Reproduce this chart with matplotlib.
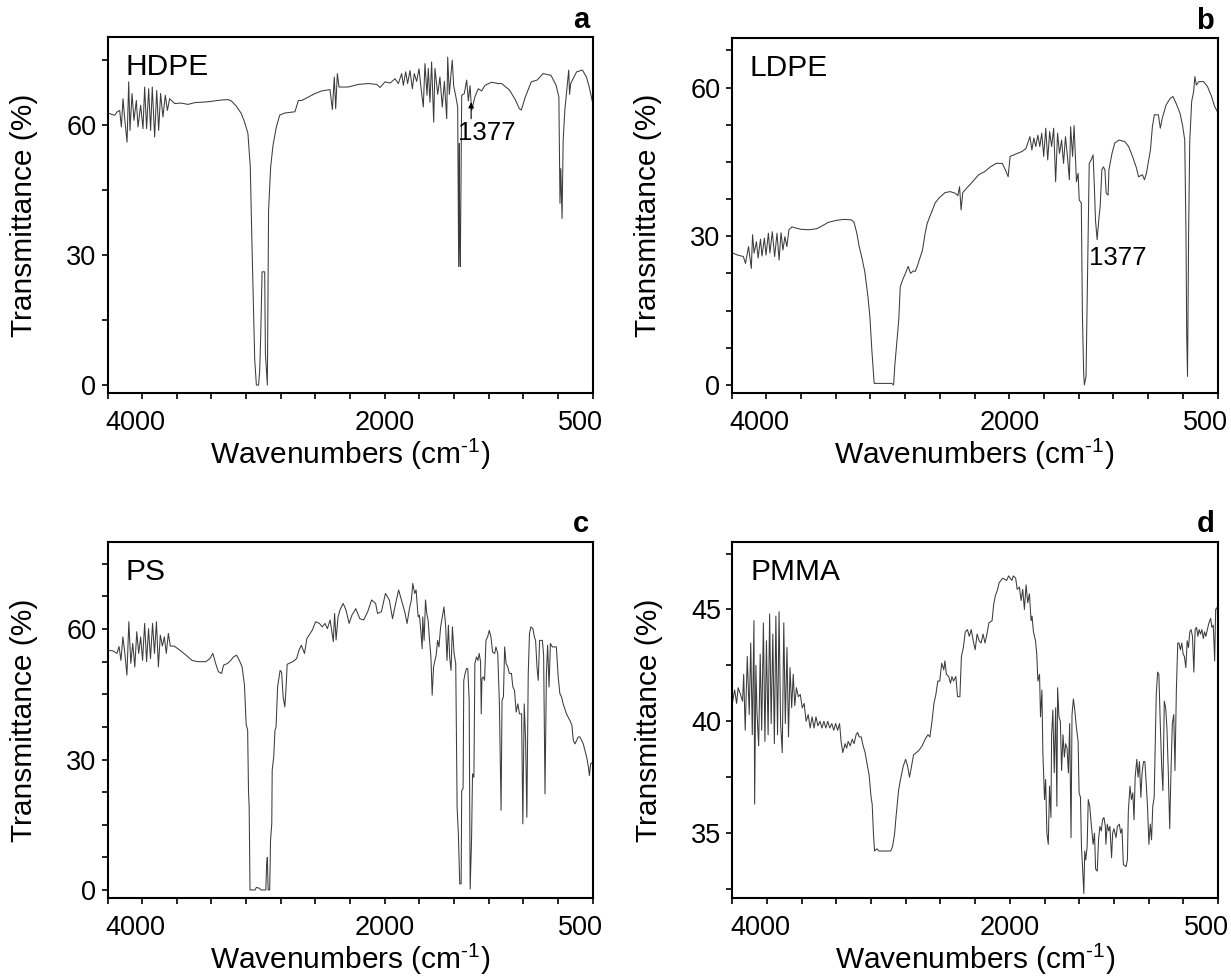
import matplotlib
matplotlib.use("Agg")
import matplotlib.pyplot as plt
from matplotlib.transforms import ScaledTranslation

plt.rcParams['font.family'] = ['Liberation Sans', 'DejaVu Sans']
plt.rcParams['mathtext.fontset'] = 'custom'
plt.rcParams['mathtext.rm'] = 'Liberation Sans'

# ---------------- data (wavenumber cm-1, transmittance %) ----------------
hdpe_wn = [3996, 3970, 3948, 3930, 3912, 3900, 3888, 3876, 3859, 3847, 3838, 3823, 3809, 3792, 3780,
           3761, 3744, 3732, 3718, 3703, 3689, 3677, 3660, 3645, 3631, 3617, 3600, 3583, 3568, 3552,
           3515, 3470, 3419, 3370, 3323, 3275, 3227, 3180, 3131, 3107, 3071, 3035, 3011, 2987, 2970,
           2958, 2938, 2926, 2910, 2902, 2895, 2885, 2866, 2861, 2847, 2838, 2823, 2806, 2782, 2758,
           2722, 2674, 2648, 2623, 2599, 2551, 2503, 2455, 2395, 2378, 2364, 2354, 2342, 2330, 2263,
           2191, 2118, 2058, 2034, 1998, 1962, 1926, 1902, 1878, 1866, 1849, 1835, 1818, 1801, 1787,
           1770, 1753, 1739, 1722, 1710, 1695, 1686, 1674, 1662, 1647, 1638, 1618, 1602, 1585, 1570,
           1553, 1546, 1534, 1522, 1513, 1503, 1489, 1474, 1467, 1462, 1460, 1455, 1445, 1426, 1409,
           1397, 1385, 1373, 1349, 1325, 1301, 1277, 1229, 1181, 1157, 1100, 1057, 1029, 1015, 986,
           943, 901, 858, 801, 764, 744, 736, 730, 721, 713, 701, 687, 673, 667, 659,
           616, 574, 545, 525, 502]
hdpe_t = [62.7, 62.4, 62.2, 63.0, 63.3, 59.5, 66.0, 61.4, 56.0, 69.9, 58.7, 67.2, 61.0, 65.6, 59.5,
          64.5, 59.1, 68.7, 59.1, 68.3, 58.7, 68.7, 57.2, 67.9, 58.7, 67.2, 61.8, 66.8, 63.3, 66.0,
          64.9, 65.0, 64.7, 65.1, 65.2, 65.3, 65.5, 65.7, 65.8, 65.5, 64.3, 62.6, 60.6, 58.0, 50.3,
          32.6, 5.8, 0.0, 0.0, 3.5, 11.1, 26.1, 26.1, 7.3, 0.0, 40.3, 50.3, 55.3, 59.5, 62.2,
          62.7, 62.9, 63.0, 65.6, 65.6, 66.4, 67.2, 67.8, 68.1, 63.5, 71.0, 63.7, 71.8, 68.7, 68.7,
          69.3, 69.5, 69.3, 68.6, 69.9, 69.6, 70.6, 69.5, 71.8, 69.1, 72.2, 69.5, 72.5, 68.3, 71.8,
          70.0, 72.9, 68.7, 64.1, 74.1, 66.8, 73.0, 65.2, 74.5, 60.6, 73.0, 67.0, 71.0, 64.1, 70.0,
          61.4, 75.6, 67.0, 71.8, 74.9, 69.0, 66.8, 64.1, 27.3, 55.7, 34.9, 27.3, 66.8, 67.2, 70.3,
          65.5, 69.0, 63.3, 66.5, 68.3, 67.8, 69.1, 69.8, 69.5, 69.5, 68.0, 65.7, 63.7, 63.4, 66.4,
          69.9, 70.3, 71.8, 71.4, 69.1, 66.4, 41.9, 49.9, 38.4, 56.5, 63.4, 68.0, 72.6, 67.0, 69.5,
          72.2, 72.6, 71.0, 68.7, 65.3]

ldpe_wn = [3991, 3957, 3915, 3900, 3878, 3858, 3849, 3838, 3821, 3809, 3792, 3781, 3764, 3752, 3735,
           3724, 3707, 3690, 3673, 3658, 3644, 3630, 3616, 3602, 3587, 3565, 3545, 3502, 3445, 3388,
           3360, 3303, 3246, 3189, 3138, 3118, 3098, 3081, 3061, 3041, 3018, 3004, 2990, 2973, 2904,
           2847, 2833, 2825, 2813, 2796, 2785, 2768, 2748, 2728, 2711, 2691, 2677, 2663, 2648, 2625,
           2606, 2591, 2563, 2534, 2506, 2463, 2426, 2392, 2370, 2358, 2347, 2335, 2307, 2264, 2221,
           2179, 2136, 2093, 2050, 2022, 2008, 1994, 1951, 1908, 1880, 1851, 1837, 1823, 1809, 1794,
           1780, 1766, 1752, 1737, 1723, 1709, 1695, 1680, 1666, 1652, 1638, 1623, 1609, 1595, 1581,
           1567, 1558, 1544, 1533, 1516, 1504, 1496, 1481, 1473, 1464, 1459, 1447, 1439, 1424, 1410,
           1396, 1387, 1379, 1367, 1353, 1345, 1333, 1322, 1311, 1302, 1288, 1282, 1260, 1240, 1211,
           1168, 1140, 1112, 1083, 1069, 1041, 1026, 1012, 983, 969, 955, 926, 912, 898, 870,
           841, 821, 798, 770, 750, 736, 727, 722, 716, 708, 700, 686, 672, 663, 652,
           635, 601, 572, 543, 521, 500]
ldpe_t = [26.6, 26.2, 25.9, 24.5, 27.9, 23.5, 30.3, 26.6, 28.9, 25.6, 29.4, 26.0, 29.6, 26.2, 30.6,
          26.6, 30.9, 25.9, 30.6, 25.2, 30.7, 27.2, 29.9, 27.9, 31.3, 31.9, 31.7, 31.4, 31.3, 31.5,
          31.9, 32.8, 33.2, 33.4, 33.3, 32.8, 30.6, 27.9, 25.6, 22.9, 17.8, 13.8, 7.1, 0.3, 0.3,
          0.3, 0.0, 3.7, 7.7, 13.1, 19.8, 21.2, 22.5, 23.9, 22.5, 23.0, 22.9, 23.9, 25.2, 27.2,
          30.6, 32.6, 34.6, 36.7, 37.7, 38.8, 39.0, 38.7, 38.2, 40.0, 35.3, 38.8, 39.7, 41.0, 42.4,
          43.0, 44.0, 44.7, 44.7, 43.0, 42.0, 46.1, 46.6, 47.1, 47.7, 50.1, 47.4, 49.8, 48.1, 50.4,
          48.1, 50.8, 46.1, 51.8, 45.4, 51.1, 48.1, 51.8, 41.0, 50.8, 46.7, 49.4, 44.7, 50.1, 46.1,
          41.4, 52.1, 46.1, 52.3, 41.0, 42.7, 37.3, 36.7, 13.8, 2.4, 0.0, 1.7, 17.1, 44.7, 45.4,
          46.4, 40.0, 33.3, 29.3, 34.0, 36.0, 43.4, 44.0, 43.4, 38.7, 38.3, 43.4, 46.7, 48.8, 49.4,
          49.1, 48.1, 46.1, 43.7, 42.0, 42.4, 41.4, 42.7, 47.4, 52.1, 54.5, 54.5, 51.8, 53.8, 56.5,
          57.8, 58.2, 56.8, 54.8, 52.1, 49.4, 30.6, 10.4, 1.7, 30.6, 49.1, 57.2, 59.2, 62.2, 60.5,
          61.2, 61.2, 60.2, 58.2, 56.2, 55.1]

ps_wn = [4000, 3960, 3932, 3917, 3903, 3889, 3875, 3860, 3846, 3832, 3818, 3803, 3789, 3775, 3761,
         3747, 3732, 3718, 3704, 3690, 3675, 3661, 3647, 3633, 3619, 3604, 3590, 3576, 3561, 3547,
         3519, 3476, 3433, 3391, 3348, 3291, 3262, 3240, 3220, 3200, 3177, 3163, 3134, 3111, 3091,
         3069, 3049, 3029, 3012, 3000, 2989, 2983, 2978, 2972, 2935, 2926, 2906, 2892, 2858, 2852,
         2847, 2841, 2830, 2824, 2815, 2812, 2801, 2792, 2784, 2773, 2755, 2744, 2733, 2721, 2713,
         2704, 2664, 2636, 2619, 2602, 2579, 2562, 2522, 2499, 2471, 2451, 2431, 2414, 2394, 2371,
         2362, 2351, 2337, 2323, 2300, 2280, 2257, 2237, 2209, 2180, 2152, 2123, 2095, 2066, 2052,
         2024, 1995, 1967, 1944, 1924,
         1900, 1876, 1856, 1839, 1822, 1808, 1798, 1784, 1774, 1759, 1750, 1740, 1730, 1726, 1716,
         1706, 1697, 1687, 1677, 1667, 1658, 1648, 1638, 1629, 1619, 1609, 1597, 1585, 1573, 1561,
         1551, 1541, 1532, 1522, 1512, 1500, 1488, 1478, 1469, 1459, 1449, 1445, 1435, 1430, 1420,
         1411, 1401, 1391, 1384, 1374, 1367, 1357, 1350, 1338, 1328, 1319, 1309, 1304, 1299, 1290,
         1280, 1270, 1258, 1246, 1234, 1222, 1207, 1198, 1185, 1173, 1161, 1154, 1144, 1135, 1125,
         1113, 1101, 1086, 1076, 1064, 1052, 1040, 1028, 1013, 1004, 994, 984, 975, 965, 956,
         946, 931, 921, 912, 902, 893, 883, 863, 854, 844, 834, 825, 815, 805, 791,
         781, 762, 749, 737, 725, 713, 689, 665, 650, 640, 628, 616, 604, 592, 580,
         568, 556, 544, 531, 524, 515, 500]
ps_t = [55.1, 55.0, 54.4, 56.0, 52.8, 58.2, 54.5, 49.4, 61.7, 52.1, 56.7, 51.3, 59.4, 54.4, 58.2,
        52.8, 61.3, 52.5, 60.1, 53.2, 61.3, 54.4, 61.7, 51.3, 58.6, 56.1, 58.2, 54.4, 59.0, 56.1,
        56.1, 55.1, 54.0, 52.8, 52.5, 52.5, 53.2, 54.4, 52.1, 50.2, 49.8, 51.7, 52.1, 52.8, 53.6,
        54.0, 52.8, 51.3, 47.1, 38.2, 36.7, 22.9, 19.0, 0.0, 0.0, 0.6, 0.4, 0.0, 0.0, 6.0,
        7.5, 0.0, 0.0, 11.4, 15.2, 27.5, 30.6, 36.7, 37.5, 46.7, 50.5, 50.1, 44.4, 42.1, 45.9,
        51.9, 52.5, 53.2, 55.1, 56.3, 54.4, 57.8, 59.8, 61.7, 61.3, 60.5, 61.3, 60.1, 62.1, 57.1,
        63.6, 57.5, 62.8, 64.4, 65.9, 64.4, 61.3, 63.2, 64.7, 62.4, 62.1, 64.0, 66.7, 65.9, 63.6,
        64.0, 68.2, 66.7, 62.4, 65.5,
        69.0, 66.3, 64.0, 61.3, 64.7, 66.7, 70.5, 68.2, 69.0, 62.8, 63.2, 59.7, 55.5, 62.8, 57.4,
        66.7, 63.6, 62.0, 57.4, 53.6, 44.8, 51.3, 52.8, 54.0, 57.4, 55.9, 60.5, 62.8, 65.1, 60.9,
        52.8, 60.9, 53.6, 50.5, 60.5, 54.4, 52.1, 19.0, 12.9, 1.4, 1.4, 22.9, 23.3, 48.2, 49.8,
        50.9, 50.9, 43.6, 0.2, 11.3, 26.7, 25.9, 52.1, 53.6, 52.8, 54.4, 52.5, 40.5, 48.6, 49.0,
        48.2, 57.4, 58.2, 59.7, 58.2, 54.7, 54.4, 55.9, 54.4, 42.8, 18.3, 43.6, 44.4, 55.9, 52.1,
        51.3, 49.8, 49.8, 46.7, 45.9, 40.9, 42.8, 40.5, 40.5, 15.2, 42.8, 34.4, 16.7, 49.8, 59.0,
        60.5, 60.1, 58.2, 57.4, 51.3, 48.2, 57.4, 57.4, 54.0, 22.1, 49.8, 56.3, 46.7, 56.7, 55.9,
        55.9, 55.9, 49.0, 45.2, 44.4, 42.8, 40.5, 39.0, 37.9, 34.4, 33.6, 34.4, 35.2, 35.2, 34.4,
        33.6, 32.1, 30.6, 28.3, 26.3, 29.0, 29.4]

pmma_wn = [4000, 3983, 3969, 3958, 3941, 3926, 3918, 3907, 3892, 3878, 3867, 3856, 3844, 3839, 3830,
           3822, 3810, 3799, 3788, 3776, 3765, 3754, 3742, 3731, 3720, 3708, 3697, 3686, 3674, 3663,
           3652, 3640, 3629, 3618, 3606, 3595, 3584, 3572, 3561, 3550, 3538, 3524, 3510, 3496, 3482,
           3468, 3453, 3439, 3425, 3411, 3397, 3383, 3368, 3354, 3340, 3326, 3312, 3298, 3283, 3269,
           3255, 3241, 3227, 3216, 3204, 3187, 3176, 3165, 3150, 3136, 3122, 3108, 3097, 3085, 3071,
           3057, 3043, 3029, 3014, 3000, 2992, 2983, 2975, 2958, 2944, 2915, 2887, 2859, 2845, 2830,
           2822, 2813, 2802, 2788, 2768, 2751, 2737, 2723, 2711, 2694, 2675, 2655, 2632, 2610, 2590,
           2576, 2561, 2547, 2533, 2519, 2505, 2491, 2476, 2468, 2457, 2440, 2428, 2417, 2406, 2389,
           2377, 2360, 2349, 2335, 2321, 2306, 2292, 2278, 2264, 2250, 2236, 2221, 2207, 2193, 2179,
           2165, 2151, 2128, 2117, 2105, 2088, 2077, 2051, 2023, 2009, 1986, 1975, 1958, 1947,
           1931, 1919, 1907, 1895, 1883, 1871, 1859, 1847, 1840, 1830, 1815, 1806, 1798, 1786, 1779,
           1769, 1762, 1750, 1742, 1733, 1723, 1714, 1704, 1699, 1690, 1680, 1670, 1661, 1656, 1646,
           1636, 1627, 1617, 1607, 1598, 1588, 1578, 1569, 1559, 1552, 1542, 1532, 1520, 1508, 1501,
           1491, 1484, 1477, 1467, 1460, 1453, 1443, 1435, 1424, 1412, 1400, 1390, 1382, 1370, 1361,
           1351, 1341, 1332, 1322, 1312, 1308, 1298, 1288, 1279, 1267, 1259, 1250, 1235, 1225, 1211,
           1201, 1192, 1182, 1163, 1153, 1146, 1134, 1124, 1114, 1105, 1097, 1085, 1076, 1066, 1056,
           1047, 1037, 1027, 1017, 1008, 998, 988, 979, 970, 960, 952, 945, 935, 926, 916,
           906, 897, 887, 877, 868, 858, 848, 839, 829, 819, 810, 800, 790, 781, 771,
           761, 751, 742, 732, 722, 713, 703, 694, 684, 674, 665, 655, 645, 636, 626,
           616, 606, 597, 587, 577, 565, 553, 544, 534, 524, 517, 505, 500]
pmma_t = [40.8, 41.4, 40.8, 41.5, 41.2, 40.9, 42.1, 39.6, 42.9, 40.3, 43.5, 39.4, 44.5, 36.3, 42.5,
          40.4, 38.9, 43.0, 39.6, 44.4, 39.1, 43.6, 39.4, 44.8, 39.9, 43.9, 39.0, 44.7, 39.4, 44.9,
          39.9, 38.6, 44.4, 39.9, 43.3, 39.3, 42.4, 40.6, 42.1, 40.7, 41.5, 41.1, 41.2, 40.6, 40.8,
          40.0, 40.3, 39.7, 40.2, 39.7, 40.2, 39.8, 40.0, 39.7, 40.0, 39.7, 40.0, 39.7, 39.9, 39.6,
          39.9, 39.6, 39.9, 39.1, 38.6, 39.0, 38.8, 39.1, 38.9, 39.2, 39.0, 39.4, 39.5, 39.3, 39.3,
          38.9, 38.6, 38.1, 37.6, 36.6, 36.3, 35.0, 34.2, 34.3, 34.2, 34.2, 34.2, 34.2, 34.4, 35.0,
          35.6, 36.2, 36.9, 37.4, 38.0, 38.3, 38.0, 37.5, 37.9, 38.5, 38.6, 38.7, 38.9, 39.2, 39.4,
          39.3, 40.0, 40.8, 41.2, 41.8, 41.8, 42.6, 42.3, 42.7, 42.1, 42.0, 41.7, 42.0, 41.8, 42.0,
          41.1, 41.1, 42.9, 43.3, 44.0, 44.1, 43.8, 44.1, 43.6, 43.2, 43.9, 43.6, 43.5, 43.9, 43.5,
          43.9, 44.4, 44.5, 45.2, 45.6, 45.9, 46.2, 46.4, 46.3, 46.5, 46.3, 46.5, 46.4, 45.9,
          46.0, 45.4, 45.9, 45.0, 46.1, 45.3, 45.7, 44.5, 44.7, 44.0, 43.6, 43.0, 41.8, 42.1, 40.2,
          41.4, 38.6, 36.5, 37.4, 35.0, 34.5, 37.1, 35.7, 39.4, 40.5, 37.7, 40.6, 36.2, 41.5, 40.2,
          40.0, 37.8, 39.4, 38.4, 39.0, 38.8, 37.7, 39.9, 34.8, 40.3, 41.0, 40.5, 39.7, 39.1, 36.8,
          36.6, 34.4, 33.6, 32.3, 34.2, 33.8, 34.4, 36.5, 36.2, 35.3, 34.5, 35.0, 33.4, 33.3, 34.7,
          35.3, 35.1, 35.6, 35.7, 35.3, 34.5, 35.4, 35.1, 35.3, 33.9, 35.0, 35.2, 34.8, 35.3, 35.4,
          35.0, 35.2, 33.6, 33.5, 33.8, 36.0, 37.1, 36.5, 36.8, 35.6, 37.5, 38.3, 37.5, 38.2, 36.6,
          37.7, 38.2, 38.2, 37.2, 36.2, 34.5, 35.4, 34.7, 36.2, 36.6, 39.1, 41.2, 42.2, 42.1, 39.9,
          38.0, 36.9, 40.9, 40.6, 39.7, 37.7, 35.2, 37.7, 39.9, 40.3, 37.8, 41.4, 43.5, 43.5, 43.2,
          43.5, 43.0, 42.9, 42.4, 43.6, 43.3, 44.0, 44.1, 43.8, 42.2, 44.1, 44.2, 43.8, 44.1, 43.9,
          44.1, 43.7, 44.0, 43.8, 44.1, 44.4, 44.6, 44.2, 44.3, 42.7, 45.0, 45.1, 43.3]

names = ['HDPE', 'LDPE', 'PS', 'PMMA']
letters = ['a', 'b', 'c', 'd']
spectra = [(hdpe_wn, hdpe_t), (ldpe_wn, ldpe_t), (ps_wn, ps_t), (pmma_wn, pmma_t)]
ylims = [(-1.9, 80.3), (-1.7, 70.1), (-1.85, 80.1), (32.1, 48.03)]
ymajor = [[0, 30, 60], [0, 30, 60], [0, 30, 60], [35, 40, 45]]
yminor = [[15, 45, 75], [7.5, 15, 22.5, 37.5, 45, 52.5, 67.5],
          [7.5, 15, 22.5, 37.5, 45, 52.5, 67.5, 75], [32.5, 37.5, 42.5, 47.5]]
xmajor = [4000, 2000, 500]
xminor = [3750, 3500, 3250, 3000, 2750, 2500, 2250, 1750, 1500, 1250, 1000, 750]

W, H = 1231, 976
fig = plt.figure(figsize=(W / 100, H / 100), dpi=100)
boxes = [(107.5, 592.7, 36.7, 393.3), (731.6, 1217.5, 37.5, 393.3),
         (107.5, 592.7, 541.7, 898.0), (732.3, 1218.0, 541.7, 898.0)]

line_color = '#3c3c3c'
for i, (l, r, t, b) in enumerate(boxes):
    ax = fig.add_axes([l / W, 1 - b / H, (r - l) / W, (b - t) / H])
    wn, tr = spectra[i]
    ax.plot(wn, tr, color=line_color, lw=0.75)
    ax.set_xlim(4000, 500)
    ax.set_ylim(*ylims[i])
    ax.set_xticks(xmajor)
    ax.set_xticks(xminor, minor=True)
    ax.set_xticklabels(['4000', '2000', '500'])
    ax.set_yticks(ymajor[i])
    ax.set_yticks(yminor[i], minor=True)
    for sp in ax.spines.values():
        sp.set_linewidth(1.5)
    ax.tick_params(which='both', direction='out', length=4, width=1.2,
                   top=False, right=False, labelsize=19.5, colors='black')
    ax.tick_params(axis='x', which='major', pad=8)
    ax.tick_params(axis='y', which='major', pad=4)
    xl = ax.get_xticklabels()
    xl[0].set_horizontalalignment('left')
    xl[0].set_transform(xl[0].get_transform() + ScaledTranslation(-2 / 100, 0, fig.dpi_scale_trans))
    xl[-1].set_transform(xl[-1].get_transform() + ScaledTranslation(-12 / 100, 0, fig.dpi_scale_trans))
    ax.set_xlabel(r'Wavenumbers (cm$^{\text{-1}}$)', fontsize=21.5, labelpad=0)
    ax.set_ylabel('Transmittance (%)', fontsize=21.5, labelpad=20)
    ax.text(0.037, 0.893 if i < 2 else 0.8925, names[i], transform=ax.transAxes,
            fontsize=21.5, ha='left', va='baseline')
    ax.text(0.993, 1.023 if i < 2 else 1.028, letters[i], transform=ax.transAxes,
            fontsize=21, fontweight='bold', ha='right', va='baseline')
    if i == 0:
        ax.text(1469, 56.4, '1377', fontsize=18.5, ha='left', va='baseline')
        ax.annotate('', xy=(1377, 65.2), xytext=(1377, 61.4),
                    arrowprops=dict(arrowstyle='-|>', color='black', lw=0.8,
                                    mutation_scale=8, shrinkA=0, shrinkB=0))
    if i == 1:
        ax.text(1425, 24.2, '1377', fontsize=18.5, ha='left', va='baseline')

fig.savefig('out.png', dpi=100)
